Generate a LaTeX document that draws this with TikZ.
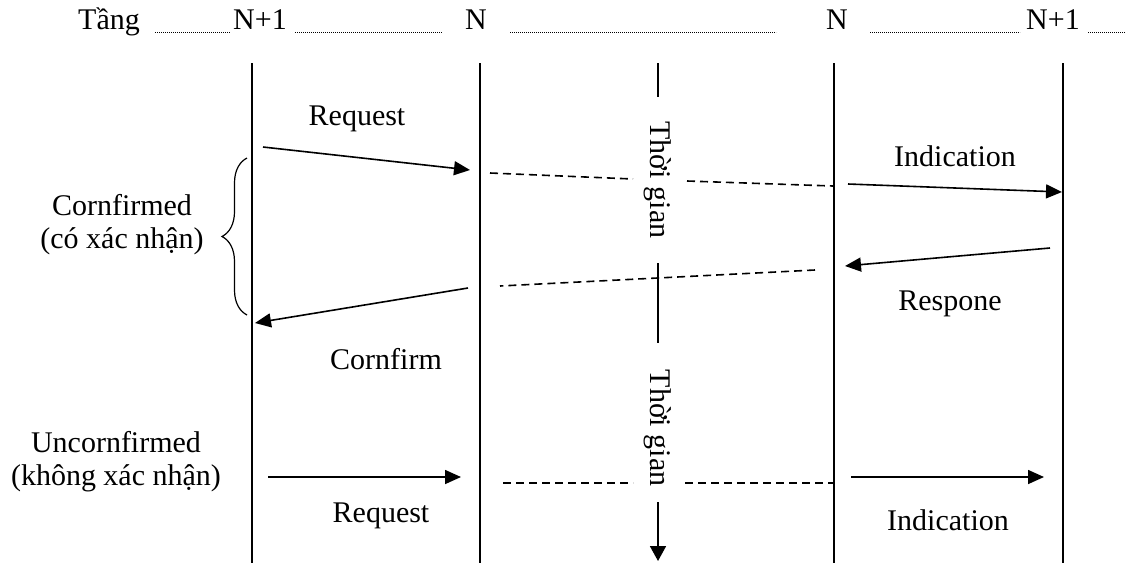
\documentclass[tikz,border=0pt]{standalone}
\usepackage{fontspec}
\setmainfont{Liberation Serif}
\usetikzlibrary{arrows.meta,decorations.pathreplacing}
\begin{document}
\begin{tikzpicture}[x=0.5pt,y=-0.5pt,
  txt/.style={font=\fontsize{15}{16.5}\selectfont, inner sep=0pt, align=center},
  life/.style={line width=0.9pt},
  msg/.style={line width=0.8pt,-{Triangle[length=8pt,width=7pt]}},
  dsh/.style={line width=0.8pt, dash pattern=on 4pt off 2.5pt},
  leader/.style={line width=0.6pt, dash pattern=on 0.35pt off 0.65pt},
  timeax/.style={line width=0.9pt},
  brc/.style={line width=0.6pt, decorate, decoration={brace, amplitude=12.5pt, aspect=0.5}}]
\useasboundingbox (0,0) rectangle (1140,563);

% header
\node[txt,anchor=base] (tang) at (109,29) {Tầng};
\node[txt,anchor=base] (h1) at (260,29) {N+1};
\node[txt,anchor=base] (h2) at (476,29) {N};
\node[txt,anchor=base] (h3) at (837,29) {N};
\node[txt,anchor=base] (h4) at (1053,29) {N+1};
\draw[leader] (155,32.5) -- (230,32.5);
\draw[leader] (295,32.5) -- (442,32.5);
\draw[leader] (510,32.5) -- (776,32.5);
\draw[leader] (870,32.5) -- (1020,32.5);
\draw[leader] (1088,32.5) -- (1125,32.5);

% lifelines
\coordinate (l1t) at (252,63);  \coordinate (l1b) at (252,563);
\coordinate (l2t) at (480,63);  \coordinate (l2b) at (480,563);
\coordinate (l3t) at (834,63);  \coordinate (l3b) at (834,563);
\coordinate (l4t) at (1063,63); \coordinate (l4b) at (1063,563);
\draw[life] (l1t) -- (l1b);
\draw[life] (l2t) -- (l2b);
\draw[life] (l3t) -- (l3b);
\draw[life] (l4t) -- (l4b);

% time axis
\coordinate (ta1) at (658,63);  \coordinate (ta2) at (658,97);
\coordinate (tb1) at (658,263); \coordinate (tb2) at (658,343);
\coordinate (tc1) at (658,502); \coordinate (tc2) at (658,561);
\draw[timeax] (ta1) -- (ta2);
\draw[timeax] (tb1) -- (tb2);
\draw[timeax,-{Triangle[length=7.5pt,width=8pt]}] (tc1) -- (tc2);
\node[txt,rotate=-90] (time1) at (658,180) {Thời gian};
\node[txt,rotate=-90] (time2) at (658,428) {Thời gian};

% confirmed service
\coordinate (rq1s) at (263,147);  \coordinate (rq1e) at (470,170);
\draw[msg] (rq1s) -- (rq1e);
\node[txt] (lreq1) at (357,119) {Request};

\coordinate (d1a) at (490,173); \coordinate (d1b) at (633,179);
\coordinate (d1c) at (687,181); \coordinate (d1d) at (833,186);
\draw[dsh] (d1a) -- (d1b);
\draw[dsh] (d1c) -- (d1d);

\coordinate (in1s) at (848,184); \coordinate (in1e) at (1062,192);
\draw[msg] (in1s) -- (in1e);
\node[txt] (lind1) at (955,156) {Indication};

\coordinate (rs1s) at (1050,248); \coordinate (rs1e) at (845,266);
\draw[msg] (rs1s) -- (rs1e);
\node[txt] (lresp) at (950,304) {Respone};

\coordinate (d2a) at (815,270); \coordinate (d2b) at (500,286);
\draw[dsh] (d2a) -- (d2b);

\coordinate (cf1s) at (468,288); \coordinate (cf1e) at (255,323);
\draw[msg] (cf1s) -- (cf1e);
\node[txt] (lconf) at (386,359) {Cornfirm};

\coordinate (bra) at (247,315); \coordinate (brb) at (247,158);
\draw[brc] (bra) -- (brb);
\node[txt] (conf) at (122,225) {Cornfirmed\\(có xác nhận)};

% unconfirmed service
\node[txt] (unconf) at (116,462) {Uncornfirmed\\(không xác nhận)};
\coordinate (rq2s) at (268,477); \coordinate (rq2e) at (461,477);
\draw[msg] (rq2s) -- (rq2e);
\node[txt] (lreq2) at (381,516) {Request};

\coordinate (d3a) at (503,483); \coordinate (d3b) at (633,483);
\coordinate (d3c) at (685,483); \coordinate (d3d) at (833,483);
\draw[dsh] (d3a) -- (d3b);
\draw[dsh] (d3c) -- (d3d);

\coordinate (in2s) at (851,477); \coordinate (in2e) at (1044,477);
\draw[msg] (in2s) -- (in2e);
\node[txt] (lind2) at (948,520) {Indication};
\end{tikzpicture}
\end{document}
